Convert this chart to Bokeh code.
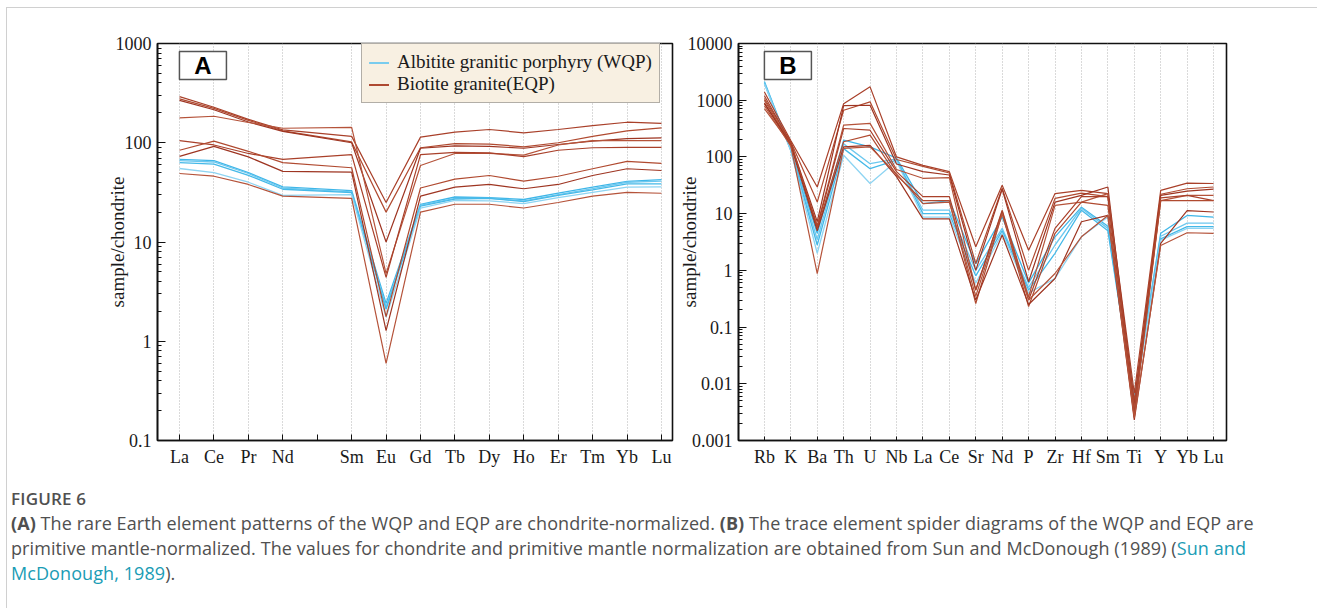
from bokeh.plotting import figure
from bokeh.models import FixedTicker, CustomJSTickFormatter, Div
from bokeh.layouts import row, column
from bokeh.embed import file_html
from bokeh.resources import INLINE
from bokeh.core.properties import value

# ---------------- data ----------------
ree_elements = ["La", "Ce", "Pr", "Nd", "Pm", "Sm", "Eu", "Gd", "Tb", "Dy", "Ho", "Er", "Tm", "Yb", "Lu"]
ree_used = ["La", "Ce", "Pr", "Nd", "Sm", "Eu", "Gd", "Tb", "Dy", "Ho", "Er", "Tm", "Yb", "Lu"]

ree_wqp_1 = [68, 66, 50, 36, 33, 2.4, 24, 28.4, 28, 26.8, 31, 35.8, 40.9, 42.6]
ree_wqp_2 = [66, 64, 49, 35, 32, 2.2, 23.5, 27.5, 27.5, 26, 30, 34.5, 40, 41]
ree_wqp_3 = [63, 61, 47, 34, 31.5, 2.1, 23, 27, 27.5, 25.5, 29.5, 33.5, 38.5, 38.6]
ree_wqp_4 = [55, 50, 40, 29.5, 30, 1.75, 22, 26.2, 26, 24.4, 28, 31.7, 35.8, 36]

ree_eqp_1 = [292, 228, 172, 135, 116, 25, 114, 128, 136, 126, 136, 149, 161, 157]
ree_eqp_2 = [277, 222, 168, 132, 102, 20, 89, 98, 97, 91, 100, 116, 132, 141]
ree_eqp_3 = [267, 215, 162, 130, 100, 10, 88, 93, 92, 88, 96, 104, 110, 112]
ree_eqp_4 = [178, 185, 160, 140, 143, 4.8, 59, 78, 78, 75, 95, 105, 105, 105]
ree_eqp_5 = [105, 95, 78, 68, 76, 4.4, 76, 80, 79, 72.5, 84, 89, 90, 90]
ree_eqp_6 = [84, 104, 82, 63, 56, 1.77, 35, 43, 46.8, 41, 46, 54.7, 65, 62]
ree_eqp_7 = [73, 92, 72, 51.5, 50.5, 1.28, 29, 35.7, 38, 34.4, 38, 46.8, 54.7, 52.5]
ree_eqp_8 = [49, 46, 38, 29, 27.5, 0.6, 20, 24, 24, 22, 25, 29, 31.6, 31]

trace_elements = ["Rb", "K", "Ba", "Th", "U", "Nb", "La", "Ce", "Sr", "Nd", "P", "Zr", "Hf", "Sm", "Ti", "Y", "Yb", "Lu"]

trace_wqp_1 = [2140, 135, 4.5, 197, 150, 95, 15, 17, 1.3, 8.7, 0.6, 3.9, 13, 6, 0.006, 4.5, 9.3, 8.7]
trace_wqp_2 = [2050, 132, 3.5, 170, 76, 92, 11.5, 11.5, 1.0, 5.5, 0.5, 2.8, 12.5, 5.5, 0.0055, 4.0, 6.8, 6.8]
trace_wqp_3 = [2000, 130, 2.8, 140, 62, 88, 10, 10, 0.8, 5.0, 0.45, 2.0, 11.5, 5.0, 0.005, 3.6, 5.9, 5.9]
trace_wqp_4 = [1960, 128, 2.0, 107, 34, 85, 8.7, 8.7, 0.6, 4.5, 0.4, 0.72, 3.9, 8.7, 0.0045, 3.4, 5.5, 5.5]

trace_eqp_1 = [1400, 195, 29.5, 870, 1720, 100, 71, 55, 2.6, 31.8, 2.27, 22.6, 25.8, 22.6, 0.0068, 25.8, 34.5, 34]
trace_eqp_2 = [1070, 185, 16, 665, 935, 90, 68, 52, 1.32, 28, 1.0, 18.6, 23, 20, 0.005, 22, 27.5, 29.5]
trace_eqp_3 = [870, 175, 7.2, 800, 815, 75, 55, 48, 1.0, 27, 0.63, 16, 21, 29.5, 0.004, 21, 25, 27]
trace_eqp_4 = [713, 165, 6.2, 363, 390, 60, 42, 43, 0.45, 11.5, 0.34, 14, 16, 22.6, 0.0035, 17, 21, 21]
trace_eqp_5 = [1200, 180, 5.8, 317, 296, 55, 20, 20, 0.45, 11, 0.3, 5.5, 20, 20, 0.003, 19, 21, 17]
trace_eqp_6 = [1000, 170, 5.5, 185, 242, 48, 17, 17, 0.26, 10, 0.23, 4.5, 16, 14, 0.0026, 17, 17, 17]
trace_eqp_7 = [900, 160, 5.0, 150, 160, 45, 8.1, 8.1, 0.3, 4.2, 0.25, 0.72, 7.2, 9.3, 0.0023, 3.0, 11.3, 10.7]
trace_eqp_8 = [800, 155, 0.88, 142, 150, 50, 15, 16, 0.35, 10, 0.3, 0.88, 3.9, 9.3, 0.0025, 2.75, 4.6, 4.5]

ree_wqp = [ree_wqp_1, ree_wqp_2, ree_wqp_3, ree_wqp_4]
ree_eqp = [ree_eqp_1, ree_eqp_2, ree_eqp_3, ree_eqp_4, ree_eqp_5, ree_eqp_6, ree_eqp_7, ree_eqp_8]
trace_wqp = [trace_wqp_1, trace_wqp_2, trace_wqp_3, trace_wqp_4]
trace_eqp = [trace_eqp_1, trace_eqp_2, trace_eqp_3, trace_eqp_4, trace_eqp_5, trace_eqp_6, trace_eqp_7, trace_eqp_8]

wqp_label = "Albitite granitic porphyry (WQP)"
eqp_label = "Biotite granite(EQP)"

# ---------------- style ----------------
SERIF = "Liberation Serif"
BLUE = ["#3fb6e8", "#6cc8ef", "#45b9e8", "#8ed4f2"]
RED = ["#a9402a", "#b04a30", "#9e3522", "#b5533a", "#a9402a", "#b04a30", "#9e3522", "#b5533a"]

fmt = CustomJSTickFormatter(code="""
const e = Math.round(Math.log10(tick));
return e >= 0 ? String(Math.round(tick)) : tick.toFixed(-e);
""")


def base_fig(width, border_left, border_right, x_range, y_range, decades):
    p = figure(width=width, height=470, y_axis_type="log", x_range=x_range, y_range=y_range,
               output_backend="svg", toolbar_location=None,
               min_border_left=border_left, min_border_right=border_right,
               min_border_top=35, min_border_bottom=38)
    p.outline_line_color = "#111111"
    p.outline_line_width = 1.6
    p.background_fill_color = "white"
    p.border_fill_color = "white"
    p.ygrid.visible = False
    p.xgrid.grid_line_color = "#b4b4b4"
    p.xgrid.grid_line_dash = "1 2"
    p.xgrid.grid_line_width = 1
    major = [10.0 ** k for k in decades]
    minor = [m * 10.0 ** k for k in decades[:-1] for m in range(2, 10)]
    p.yaxis.ticker = FixedTicker(ticks=major, minor_ticks=minor)
    p.yaxis.formatter = fmt
    for ax in (p.xaxis, p.yaxis):
        ax.axis_line_color = "#111111"
        ax.axis_line_width = 1.6
        ax.major_tick_line_color = "#111111"
        ax.minor_tick_line_color = "#111111"
        ax.major_tick_out = 0
        ax.minor_tick_out = 0
        ax.major_label_text_font = SERIF
        ax.major_label_text_font_size = "18px"
        ax.major_label_text_color = "#1a1a1a"
    p.yaxis.major_tick_in = 8
    p.yaxis.minor_tick_in = 4
    p.yaxis.major_label_standoff = 6
    p.yaxis.axis_label = "sample/chondrite"
    p.yaxis.axis_label_text_font = SERIF
    p.yaxis.axis_label_text_font_style = "normal"
    p.yaxis.axis_label_text_font_size = "19px"
    p.yaxis.axis_label_text_color = "#1a1a1a"
    p.yaxis.axis_label_standoff = -15
    p.xaxis.major_tick_in = 6
    p.xaxis.minor_tick_in = 0
    p.xaxis.major_label_standoff = 6
    return p


def panel_letter(p, x, y, letter):
    p.rect(x=[x], y=[y], width=47, height=28, width_units="screen", height_units="screen",
           fill_color="white", line_color="#555555", line_width=1.5)
    p.text(x=[x], y=[y], text=[letter], text_align="center", text_baseline="middle",
           text_font=value("Liberation Sans"), text_font_style="bold", text_font_size="24px",
           text_color="black")


# ---------------- panel A ----------------
pa = base_fig(668, 150, 3, (-0.64, 14.32), (0.1, 1000), [-1, 0, 1, 2, 3])
xa = [ree_elements.index(e) for e in ree_used]
pa.xaxis.ticker = FixedTicker(ticks=list(range(len(ree_elements))))
pa.xaxis.major_label_overrides = {i: ("" if e == "Pm" else e) for i, e in enumerate(ree_elements)}
pa.xgrid.ticker = FixedTicker(ticks=[ree_elements.index(e) for e in ree_used])

for i, ys in enumerate(ree_wqp):
    pa.line(xa, ys, line_color=BLUE[i % len(BLUE)], line_width=1.3, legend_label=wqp_label)
for i, ys in enumerate(ree_eqp):
    pa.line(xa, ys, line_color=RED[i % len(RED)], line_width=1.2, legend_label=eqp_label)

panel_letter(pa, 0.68, 600, "A")

lg = pa.legend[0]
lg.location = (204, 337)
lg.background_fill_color = "#f8f0e2"
lg.background_fill_alpha = 1
lg.border_line_color = "#6b6b6b"
lg.border_line_width = 1.5
lg.label_text_font = SERIF
lg.label_text_font_size = "19px"
lg.label_text_color = "#1a1a1a"
lg.glyph_width = 20
lg.glyph_height = 19
lg.label_height = 19
lg.label_standoff = 8
lg.padding = 7
lg.spacing = 0
lg.margin = 0
lg.items[1].renderers[0].glyph.line_color = RED[0]

# ---------------- panel B ----------------
pb = base_fig(571, 61, 20, (-0.98, 17.49), (0.001, 10000), [-3, -2, -1, 0, 1, 2, 3, 4])
xb = list(range(len(trace_elements)))
pb.xaxis.ticker = FixedTicker(ticks=xb)
pb.xaxis.major_label_overrides = {i: e for i, e in enumerate(trace_elements)}
pb.xgrid.ticker = FixedTicker(ticks=xb)
pb.xaxis.major_tick_in = 4

for i, ys in enumerate(trace_wqp):
    pb.line(xb, ys, line_color=BLUE[i % len(BLUE)], line_width=1.3)
for i, ys in enumerate(trace_eqp):
    pb.line(xb, ys, line_color=RED[i % len(RED)], line_width=1.2)

panel_letter(pb, 0.89, 4090, "B")

# ---------------- caption ----------------
link = "color:#1a9cb5"
caption = Div(width=1300, height=125, text=(
    '<div style="font-family:\'Open Sans\';color:#505050;margin-left:-1px;margin-top:3px;white-space:nowrap">'
    '<div style="font-size:17px;font-weight:600;line-height:25px;letter-spacing:0.2px">FIGURE 6</div>'
    '<div style="font-size:18px;line-height:25px;letter-spacing:0.08px">'
    '<b>(A)</b> The rare Earth element patterns of the WQP and EQP are chondrite-normalized. '
    '<b>(B)</b> The trace element spider diagrams of the WQP and EQP are<br>'
    'primitive mantle-normalized. The values for chondrite and primitive mantle normalization are '
    'obtained from Sun and McDonough (1989) (<span style="' + link + '">Sun and</span><br>'
    '<span style="' + link + '">McDonough, 1989</span>).'
    '</div></div>'))

layout = column(row(pa, pb), caption, margin=(7, 0, 0, 6),
                styles={"border-top": "1px solid #d0d0d0", "border-left": "1px solid #d0d0d0"})

open("out.html", "w").write(file_html(layout, INLINE))
